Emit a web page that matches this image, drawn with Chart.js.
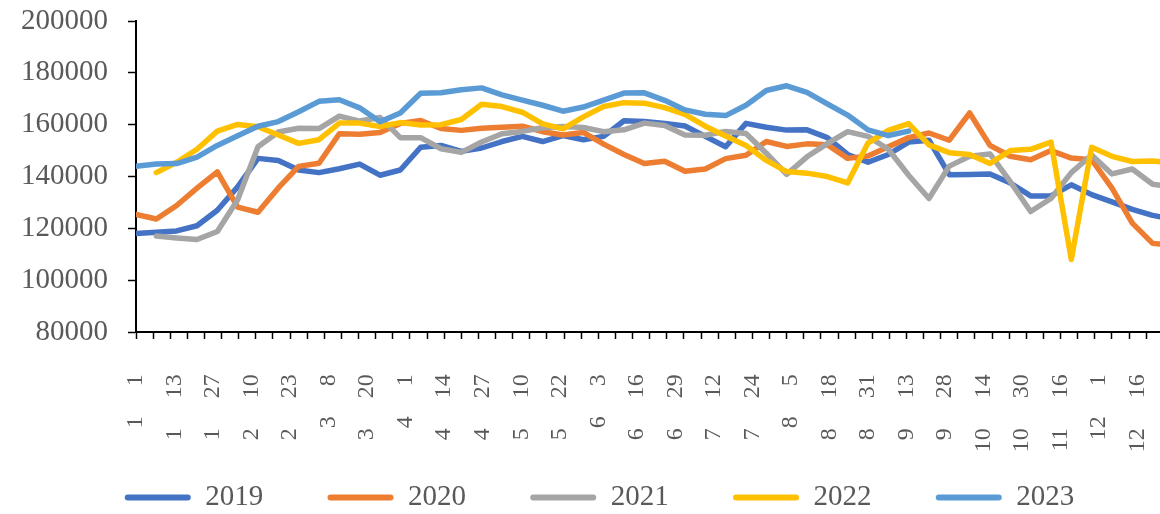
<!DOCTYPE html>
<html>
<head>
<meta charset="utf-8">
<script src="https://cdn.jsdelivr.net/npm/chart.js@4.4.1/dist/chart.umd.min.js"></script>
<style>
html,body{margin:0;padding:0;background:#fff;overflow:hidden;width:1160px;height:514px}
canvas{display:block}
</style>
</head>
<body>
<canvas id="c" width="1198" height="522"></canvas>
<script>
// ---- data ----
const years = ['2019', '2020', '2021', '2022', '2023'];
const colors = ['#4472C4', '#ED7D31', '#A5A5A5', '#FFC000', '#5B9BD5'];

// date tick labels (month / day)
const labelMonths = [1,1,1,2,2,3,3,4,4,4,5,5,6,6,6,7,7,8,8,8,9,9,10,10,11,12,12];
const labelDays   = [1,13,27,10,23,8,20,1,14,27,10,22,3,16,29,12,24,5,18,31,13,28,14,30,16,1,16];

// weekly values
const v2019 = [118000,118500,119000,121000,127000,136000,147000,146200,142500,141500,
               143000,144800,140500,142500,151300,152000,149700,151000,153500,155500,
               153500,155800,154200,155500,161500,161200,160500,159500,155500,151500,
               160500,159000,157900,158000,155000,148500,145500,148500,153300,154000,
               140700,140800,141000,137500,132500,132500,136800,133000,130200,127300,
               125000,123500];
const v2020 = [125400,123600,128800,135500,141800,128200,126200,135600,143900,145100,
               156500,156300,157000,160500,161600,158500,157800,158600,159000,159400,
               157300,156000,157000,152500,148500,145000,145900,142000,142900,146900,
               148200,153500,151600,152600,152300,147000,147900,151500,155000,156800,
               154000,164500,152000,147800,146500,150000,147100,146500,135500,122000,
               114200,113500];
const v2021 = [null,117000,116300,115700,118800,131000,151500,157200,158600,158500,
               163300,161400,162800,155000,155000,150700,149300,153300,156500,157400,
               158800,159300,158900,157300,158000,160600,159700,156000,155900,157400,
               156600,149000,140800,147600,152700,157300,155500,150500,140500,131500,
               144000,147800,148700,138000,126500,131500,141500,148300,141000,142900,
               137000,136000];
const v2022 = [null,141500,145500,150500,157500,160100,159200,156000,152800,154200,
               160600,160600,159300,160800,159900,160000,162000,167900,167000,164800,
               160300,158400,163000,167000,168500,168300,166600,164000,159400,155600,
               152000,146200,141900,141300,140000,137500,152900,157800,160400,152200,
               149200,148500,145000,150000,150500,153300,108000,151300,147800,145800,
               146000,145200];
const v2023 = [144000,144800,145000,147500,152000,155700,159400,161200,165000,169000,
               169600,166500,161100,164500,172100,172300,173500,174200,171500,169500,
               167500,165200,166800,169500,172200,172300,169400,165700,164000,163500,
               167500,173200,175000,172500,168000,163700,158000,155800,157500];

// ---- axis geometry (in trading-day units) ----
const WEEK_STEP = 4.75;   // trading days between weekly observations
const TICK_STEP = 4;      // tick mark every 4 trading days
const LABEL_STEP = 9;     // date label every 9 trading days
const X_MAX = 248.1;
const LAST_TICK = 236;

const series = [v2019, v2020, v2021, v2022, v2023];
const datasets = series.map((vals, s) => ({
  label: years[s],
  data: vals.map((v, i) => ({ x: i * WEEK_STEP, y: v })),
  borderColor: colors[s],
  backgroundColor: colors[s],
  borderWidth: 5.5,
  pointRadius: 0,
  pointHoverRadius: 0,
  borderCapStyle: 'round',
  borderJoinStyle: 'round',
  tension: 0,
  spanGaps: false,
  order: series.length - 1 - s
}));

const FONT = '"Liberation Serif", "Times New Roman", serif';
const TEXT = '#595959';

new Chart(document.getElementById('c'), {
  type: 'line',
  data: { datasets },
  options: {
    responsive: false,
    animation: false,
    devicePixelRatio: 1,
    layout: { padding: { left: 1, top: 21, right: 0, bottom: 0 } },
    plugins: {
      tooltip: { enabled: false },
      legend: {
        position: 'bottom',
        align: 'center',
        labels: {
          font: { family: FONT, size: 29 },
          color: TEXT,
          boxWidth: 66,
          boxHeight: 6,
          padding: 13.5,
          useBorderRadius: true,
          borderRadius: 3,
          generateLabels: (chart) => chart.data.datasets.map((ds, i) => ({
            text: ds.label + (i < chart.data.datasets.length - 1 ? '       ' : ''),
            fillStyle: ds.borderColor,
            strokeStyle: ds.borderColor,
            lineWidth: 0,
            hidden: false,
            datasetIndex: i,
            fontColor: TEXT,
            borderRadius: 3
          }))
        }
      }
    },
    scales: {
      x: {
        type: 'linear',
        min: 0,
        max: X_MAX,
        afterBuildTicks: (scale) => {
          const t = [];
          for (let v = 0; v <= LAST_TICK; v++) {
            if (v % TICK_STEP === 0 || (v % LABEL_STEP === 0 && v / LABEL_STEP < labelDays.length)) t.push({ value: v });
          }
          scale.ticks = t;
        },
        ticks: {
          autoSkip: false,
          minRotation: 90,
          maxRotation: 90,
          padding: 17.25,
          font: { family: FONT, size: 24 },
          color: TEXT,
          callback: (v) => {
            if (v % LABEL_STEP !== 0) return '';
            const k = v / LABEL_STEP;
            if (k >= labelDays.length) return '';
            return labelMonths[k] + '     ' + labelDays[k] + '   ';
          }
        },
        grid: {
          display: true,
          drawOnChartArea: false,
          drawTicks: true,
          tickLength: 7,
          tickWidth: 1.5,
          tickColor: (ctx) => (ctx.tick && ctx.tick.value % TICK_STEP === 0 ? '#000' : 'rgba(0,0,0,0)')
        },
        border: { display: true, color: '#000', width: 2 }
      },
      y: {
        min: 80000,
        max: 200000,
        ticks: {
          stepSize: 20000,
          padding: 20,
          font: { family: FONT, size: 29, lineHeight: 0.07 },
          color: TEXT,
          callback: (v) => String(v)
        },
        grid: { drawOnChartArea: false, drawTicks: true, tickLength: 8, tickWidth: 1.5, tickColor: '#000' },
        border: { display: true, color: '#000', width: 2 }
      }
    }
  }
});
</script>
</body>
</html>
